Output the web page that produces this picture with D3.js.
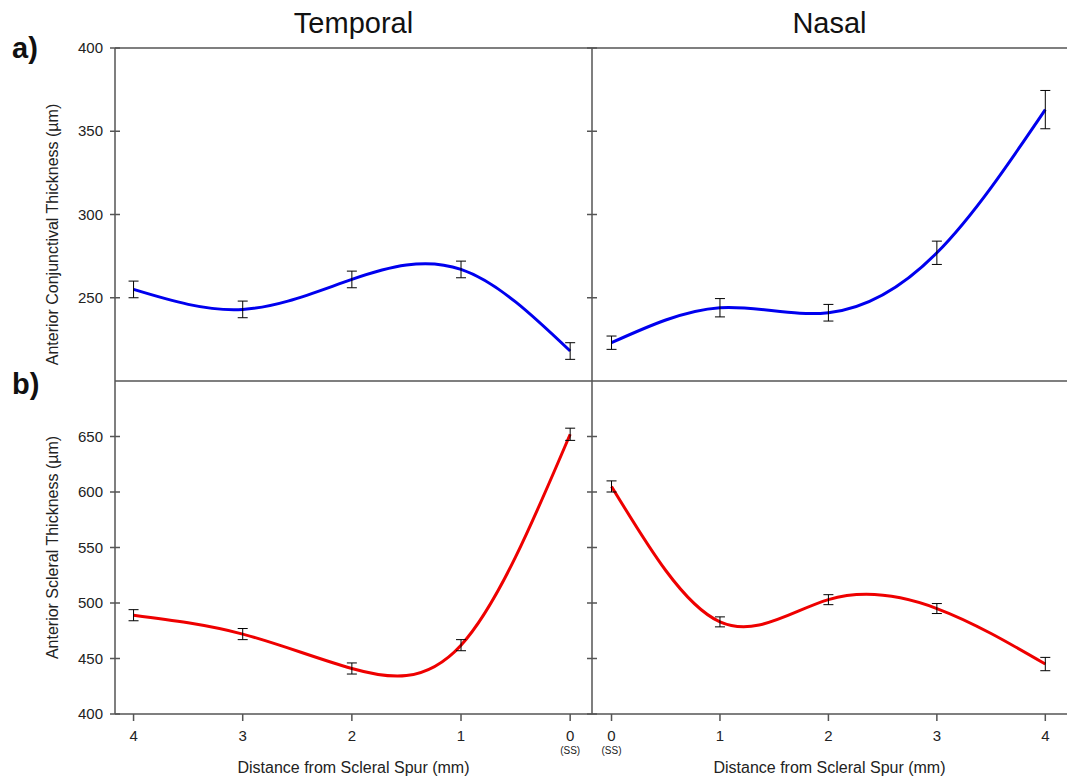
<!DOCTYPE html>
<html><head><meta charset="utf-8">
<script src="https://cdn.jsdelivr.net/npm/d3@7"></script>
<style>body{margin:0;background:#fff}text{font-family:Arial,"Liberation Sans",sans-serif}</style>
</head><body>
<svg id="c" width="1072" height="777"></svg>
<script>
const distances=[0,1,2,3,4];
const conjTemporal=[218,267,261,243,255];
const conjTemporalErr=[5,5,5,5,5];
const conjNasal=[223,244,241,277,363];
const conjNasalErr=[4,5.5,5,7,11.5];
const scleraTemporal=[652,462,441,472,489];
const scleraTemporalErr=[5.5,5,5,5,5];
const scleraNasal=[605,483,503,495,445];
const scleraNasalErr=[5,4.5,4.5,4.5,6];
const conjTicks=[250,300,350,400];
const scleraTicks=[400,450,500,550,600,650];

const svg=d3.select("#c");
const L=115,M=592,R=1067,T=48,Mid=381,B=714;
const col="#555";
const xT=d3.scaleLinear().domain([4.17,-0.2]).range([L,M]);
const xN=d3.scaleLinear().domain([-0.18,4.2]).range([M,R]);
const yC=d3.scaleLinear().domain([200,400]).range([Mid,T]);
const yS=d3.scaleLinear().domain([400,700]).range([B,Mid]);

function line(x1,y1,x2,y2){svg.append("line").attr("x1",x1).attr("y1",y1).attr("x2",x2).attr("y2",y2).attr("stroke",col).attr("stroke-width",1.5);}
line(L,T,R,T);line(L,Mid,R,Mid);line(L,B,R,B);line(L,T,L,B);line(M,T,M,B);
function yticks(y,ticks,labels){
  ticks.forEach(t=>{
    line(L-5,y(t),L+5,y(t));line(M-5,y(t),M+5,y(t));
    if(labels) svg.append("text").attr("x",L-12).attr("y",y(t)+5).attr("text-anchor","end").attr("font-size",15).attr("fill","#222").text(t);
  });
}
yticks(yC,conjTicks,true);yticks(yS,scleraTicks,true);
[xT,xN].forEach(x=>{distances.forEach(d=>{line(x(d),B,x(d),B+7);
  svg.append("text").attr("x",x(d)).attr("y",B+27).attr("text-anchor","middle").attr("font-size",15).attr("fill","#222").text(d);
  if(d===0) svg.append("text").attr("x",x(d)).attr("y",B+40).attr("text-anchor","middle").attr("font-size",10).attr("fill","#222").text("(SS)");
});});
svg.append("text").attr("x",(L+M)/2).attr("y",B+59).attr("text-anchor","middle").attr("font-size",16).attr("fill","#222").text("Distance from Scleral Spur (mm)");
svg.append("text").attr("x",(M+R)/2).attr("y",B+59).attr("text-anchor","middle").attr("font-size",16).attr("fill","#222").text("Distance from Scleral Spur (mm)");
svg.append("text").attr("x",(L+M)/2).attr("y",33).attr("text-anchor","middle").attr("font-size",29).attr("fill","#111").text("Temporal");
svg.append("text").attr("x",(M+R)/2).attr("y",33).attr("text-anchor","middle").attr("font-size",29).attr("fill","#111").text("Nasal");
svg.append("text").attr("x",12).attr("y",58).attr("font-size",29).attr("font-weight","bold").attr("fill","#111").text("a)");
svg.append("text").attr("x",12).attr("y",394).attr("font-size",29).attr("font-weight","bold").attr("fill","#111").text("b)");
svg.append("text").attr("transform",`translate(58,${(T+Mid)/2+20}) rotate(-90)`).attr("text-anchor","middle").attr("font-size",16).attr("fill","#222").text("Anterior Conjunctival Thickness (µm)");
svg.append("text").attr("transform",`translate(58,${(Mid+B)/2}) rotate(-90)`).attr("text-anchor","middle").attr("font-size",16).attr("fill","#222").text("Anterior Scleral Thickness (µm)");

function series(x,y,vals,errs,color){
  const pts=distances.map((d,i)=>[x(d),y(vals[i])]);
  svg.append("path").attr("d",d3.line().curve(d3.curveNatural)(pts.slice().sort((a,b)=>a[0]-b[0]))).attr("fill","none").attr("stroke",color).attr("stroke-width",3);
  distances.forEach((d,i)=>{
    const cx=x(d),y1=y(vals[i]-errs[i]),y2=y(vals[i]+errs[i]);
    svg.append("line").attr("x1",cx).attr("x2",cx).attr("y1",y1).attr("y2",y2).attr("stroke","#000").attr("stroke-width",1);
    [y1,y2].forEach(yy=>svg.append("line").attr("x1",cx-5).attr("x2",cx+5).attr("y1",yy).attr("y2",yy).attr("stroke","#000").attr("stroke-width",1));
  });
}
series(xT,yC,conjTemporal,conjTemporalErr,"#0000ee");
series(xN,yC,conjNasal,conjNasalErr,"#0000ee");
series(xT,yS,scleraTemporal,scleraTemporalErr,"#ee0000");
series(xN,yS,scleraNasal,scleraNasalErr,"#ee0000");
</script></body></html>
